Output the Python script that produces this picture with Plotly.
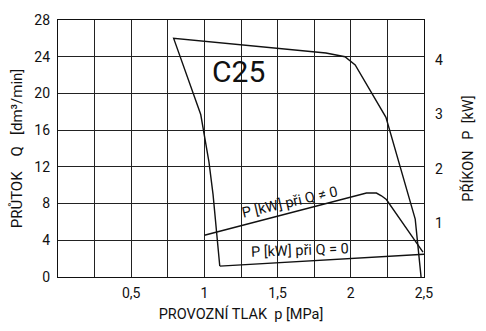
import plotly.graph_objects as go

# Data
q_pressure = [1.105, 1.059, 1.031, 0.975, 0.79, 1.24, 1.83, 1.96, 2.03, 2.24, 2.44, 2.48]
q_flow = [1.2, 9.0, 12.55, 17.7, 26.0, 25.3, 24.4, 24.0, 23.1, 17.4, 6.3, 0.0]

pq_pressure = [1.0, 2.107, 2.175, 2.209, 2.243, 2.493]
pq_power = [0.77, 1.55, 1.55, 1.50, 1.43, 0.46]

p0_pressure = [1.105, 2.5]
p0_power = [0.20, 0.42]

x_ticks = [0, 0.25, 0.5, 0.75, 1.0, 1.25, 1.5, 1.75, 2.0, 2.25, 2.5]
x_labels = ["", "", "0,5", "", "1", "", "1,5", "", "2", "", "2,5"]
y_ticks = [0, 4, 8, 12, 16, 20, 24, 28]
y2_ticks = [1, 2, 3, 4]

FONT = "Roboto, sans-serif"
LC = "#111111"
NB = "\u00a0"

fig = go.Figure()
fig.add_trace(go.Scatter(x=q_pressure, y=q_flow, mode="lines",
                         line=dict(color=LC, width=1.4), showlegend=False))
fig.add_trace(go.Scatter(x=pq_pressure, y=pq_power, mode="lines", yaxis="y2",
                         line=dict(color=LC, width=1.4), showlegend=False))
fig.add_trace(go.Scatter(x=p0_pressure, y=p0_power, mode="lines", yaxis="y2",
                         line=dict(color=LC, width=1.4), showlegend=False))

fig.update_layout(
    width=486, height=331,
    margin=dict(l=58, r=62, t=17, b=54),
    paper_bgcolor="white", plot_bgcolor="white",
    font=dict(family=FONT, size=14, color="#111"),
    xaxis=dict(range=[0, 2.5], tickvals=x_ticks, ticktext=x_labels,
               showgrid=True, gridcolor="#222", gridwidth=1,
               showline=True, linecolor="#111", linewidth=1.2, mirror=True,
               ticks="", zeroline=False, ticklabelstandoff=3,
               title=dict(text="PROVOZNÍ TLAK" + NB * 2 + "p [MPa]", font=dict(size=14.5), standoff=8)),
    yaxis=dict(range=[0, 28], tickvals=y_ticks,
               showgrid=True, gridcolor="#222", gridwidth=1,
               showline=True, linecolor="#111", linewidth=1.2, mirror=True,
               ticks="", zeroline=False, ticklabelstandoff=4,
               title=dict(text="PRŮTOK" + NB * 4 + "Q" + NB * 3 + "[dm³/min]", font=dict(size=15), standoff=8)),
    yaxis2=dict(range=[0, 28 / 5.9], tickvals=y2_ticks, overlaying="y", side="right",
                showgrid=False, zeroline=False, ticks="", showline=False,
                ticklabelstandoff=10,
                title=dict(text="PŘÍKON" + NB * 3 + "P" + NB * 2 + "[kW]", font=dict(size=14.5), standoff=20)),
    annotations=[
        dict(x=1.231, y=22.4, text="C25", showarrow=False, xref="x", yref="y",
             font=dict(size=30, family=FONT)),
        dict(x=1.583, y=8.1, text="P [kW] při Q ≠ 0", showarrow=False, xref="x", yref="y",
             textangle=-13, font=dict(size=14.5, family=FONT)),
        dict(x=1.654, y=2.9, text="P [kW] při Q = 0", showarrow=False, xref="x", yref="y",
             textangle=-2, font=dict(size=14.5, family=FONT)),
    ],
)

fig.write_html("out.html")
